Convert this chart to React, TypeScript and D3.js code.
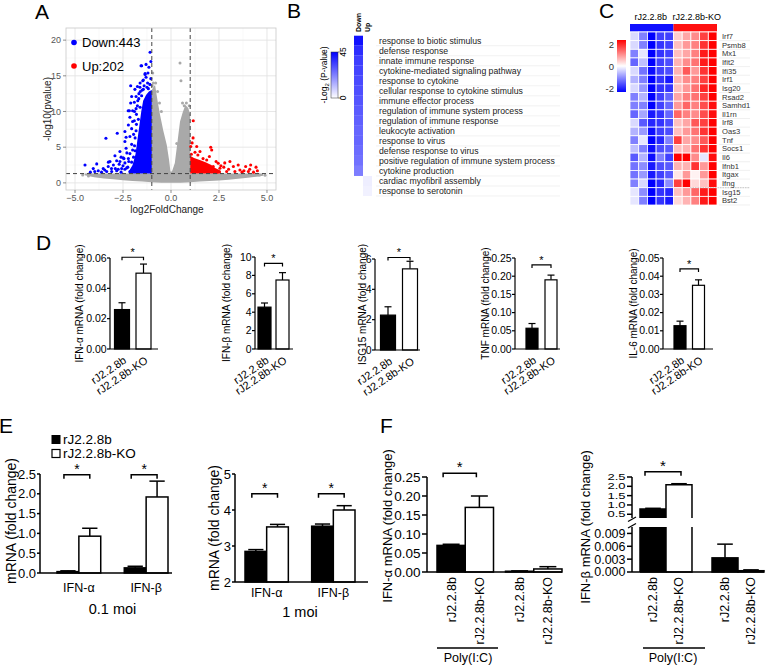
import React from 'react';
import * as d3 from 'd3';

const FONT = 'Arial, "Liberation Sans", Helvetica, sans-serif';

// ---------------- Panel A: volcano ----------------
const volcXTicks = [-5, -2.5, 0, 2.5, 5];
const volcYTicks = [0, 5, 10, 15, 20];
const downCount = 443;
const upCount = 202;
const pThreshold = 1.3;
const fcThreshold = 1;
// gray non-significant band: [log2FC, low, high]
const grayBand = [
  [-4.5, 1.05, 1.3], [-4.0, 0.8, 1.3], [-3.0, 0.5, 1.3], [-2.0, 0.25, 1.3], [-1.0, 0.1, 1.3],
  [0, 0.0, 1.3], [1.0, 0.1, 1.3], [2.0, 0.25, 1.3], [3.0, 0.45, 1.3], [4.0, 0.7, 1.3], [4.8, 1.0, 1.3],
];
// gray core (|log2FC|<1): [log2FC, top]
const grayCore = [
  [-1.0, 13.0], [-0.9, 13.5], [-0.83, 13.7], [-0.7, 11.5], [-0.57, 9.5], [-0.4, 7.3], [-0.22, 5.3],
  [-0.1, 3.2], [-0.03, 1.6], [0.05, 1.6], [0.2, 2.8], [0.35, 6.0], [0.47, 8.6], [0.6, 9.8],
  [0.75, 10.9], [0.9, 10.5], [1.0, 9.5],
];
const grayPts = [
  [0.47, 16.8], [0.52, 14.3], [-0.95, 15.4], [-0.92, 14.0], [0.69, 10.8], [0.6, 11.2], [0.85, 8.2],
  [-0.7, 12.8], [0.95, 10.8], [-0.8, 14.0], [-0.98, 13.6], [0.3, 5.5], [0.8, 11.2], [-4.6, 1.1],
  [4.9, 1.05], [-4.3, 0.95], [4.6, 1.1], [-0.6, 11.2], [-0.5, 10.0],
];
// blue dense core (x, top), base at threshold
const blueCore = [
  [-2.2, 1.6], [-2.0, 2.5], [-1.85, 4.0], [-1.75, 6.0], [-1.65, 8.0], [-1.55, 10.0], [-1.45, 11.5],
  [-1.3, 12.3], [-1.15, 12.8], [-1.0, 13.0],
];
const bluePts = [
  [-1.09, 18.3], [-1.56, 16.4], [-1.35, 15.2], [-1.3, 14.8], [-1.47, 14.3], [-1.61, 14.0], [-1.22, 14.0],
  [-1.75, 13.5], [-2.1, 13.6], [-1.44, 13.1], [-1.18, 13.2], [-2.05, 12.1], [-1.82, 12.1], [-1.67, 12.5],
  [-1.53, 12.2], [-2.1, 11.2], [-1.91, 11.3], [-1.73, 11.5], [-2.23, 10.1], [-2.0, 10.1], [-1.82, 10.4],
  [-1.61, 10.6], [-2.14, 9.2], [-1.91, 8.7], [-1.7, 8.9], [-2.22, 8.1], [-2.05, 7.6], [-2.4, 7.2],
  [-1.82, 7.3], [-2.8, 6.95], [-3.39, 6.25], [-2.14, 6.5], [-1.87, 6.3], [-2.4, 5.8], [-2.05, 5.4],
  [-2.34, 4.85], [-2.66, 4.4], [-2.14, 4.1], [-1.87, 4.5], [-2.92, 3.8], [-2.49, 3.5], [-2.22, 3.4],
  [-3.18, 3.0], [-2.66, 3.0], [-2.4, 2.8], [-4.48, 2.5], [-4.05, 2.0], [-3.79, 1.7], [-3.53, 2.0],
  [-3.27, 2.3], [-3.0, 2.5], [-2.83, 1.7], [-2.57, 2.0], [-3.35, 1.6], [-3.97, 1.6], [-3.62, 1.5],
  [-3.09, 1.6], [-2.31, 2.1], [-2.14, 1.6], [-3.87, 2.66], [-3.26, 2.9], [-2.83, 3.1], [-2.45, 3.4],
  [-2.34, 6.4], [-2.17, 10.1], [-1.88, 13.1], [-1.53, 16.4], [-1.35, 15.3], [-1.44, 14.4], [-4.2, 1.5],
  [-1.95, 6.8], [-1.9, 5.2], [-2.0, 4.6], [-2.2, 3.0], [-2.5, 2.4], [-2.7, 2.6], [-2.9, 2.0],
  [-2.6, 1.5], [-2.4, 1.9], [-2.25, 2.2], [-2.05, 2.9], [-1.8, 9.6], [-1.75, 10.8], [-1.68, 11.8],
  [-1.6, 12.8], [-1.5, 13.0], [-1.4, 13.6], [-1.25, 13.4], [-1.1, 13.8], [-1.05, 14.6], [-1.2, 15.4],
  [-1.15, 16.2], [-1.3, 16.6], [-1.05, 17.0], [-1.95, 3.6], [-1.8, 8.2], [-2.3, 4.2], [-2.6, 3.6],
  [-3.1, 2.0], [-3.45, 1.8], [-2.75, 1.9], [-1.62, 13.4], [-1.9, 10.0], [-2.0, 8.6],
];
const redCore = [
  [1.0, 3.8], [1.2, 3.5], [1.5, 3.2], [1.8, 2.9], [2.1, 2.5], [2.3, 2.1], [2.6, 1.7],
];
const redPts = [
  [1.16, 8.7], [1.03, 5.1], [1.34, 5.1], [1.51, 4.4], [2.07, 5.0], [2.12, 4.6], [1.06, 4.0], [2.0, 3.7],
  [2.46, 2.75], [3.07, 3.0], [3.25, 2.3], [3.59, 1.8], [3.89, 2.3], [4.15, 2.5], [4.43, 2.2], [4.5, 1.7],
  [4.03, 1.6], [3.33, 1.6], [2.9, 1.6], [2.55, 2.05], [2.2, 2.3], [1.86, 3.2], [1.67, 3.4], [1.25, 4.3],
  [1.4, 3.9], [2.35, 3.0], [2.75, 2.2], [3.0, 1.9], [3.7, 1.5], [4.3, 1.5], [1.15, 6.3], [1.1, 5.6],
  [2.4, 1.5], [2.6, 2.4], [1.9, 1.6], [3.5, 2.5], [3.8, 1.7], [4.1, 1.9], [2.8, 2.8],
];

// ---------------- Panel B: GO heatmap ----------------
const goTerms = [
  'response to biotic stimulus', 'defense response', 'innate immune response',
  'cytokine-mediated signaling pathway', 'response to cytokine', 'cellular response to cytokine stimulus',
  'immune effector process', 'regulation of immune system process', 'regulation of immune response',
  'leukocyte activation', 'response to virus', 'defense response to virus',
  'positive regulation of immune system process', 'cytokine production', 'cardiac myofibril assembly',
  'response to serotonin',
];
const goDown = [42, 37, 34, 33, 32, 31, 30, 29, 28, 27, 27, 26, 25, 23, null, null];
const goUp = [null, null, null, null, null, null, null, null, null, null, null, null, null, null, 3, 2.5];
const goCols = ['Down', 'Up'];

// ---------------- Panel C: gene heatmap ----------------
const heatGenes = ['Irf7', 'Psmb8', 'Mx1', 'Ifit2', 'Ifi35', 'Irf1', 'Isg20', 'Rsad2', 'Samhd1', 'Il1rn',
  'Irf8', 'Oas3', 'Tnf', 'Socs1', 'Il6', 'Ifnb1', 'Itgax', 'Ifng', 'Isg15', 'Bst2'];
const heatGroups = ['rJ2.2.8b', 'rJ2.2.8b-KO'];
const heatValues = [
  [-0.3, -1.0, -2.0, -1.5, -1.5, 0.4, 0.7, 0.9, 1.5, 2.0],
  [-0.3, -1.0, -2.0, -1.6, -1.5, 0.5, 0.8, 1.0, 1.6, 2.0],
  [-1.0, -0.2, -2.0, -1.6, -1.5, 0.5, 0.7, 1.0, 1.8, 2.0],
  [-1.2, -0.5, -2.0, -1.5, -1.4, 0.6, 0.9, 1.1, 1.8, 2.0],
  [-0.3, -1.1, -1.9, -1.5, -1.4, 0.6, 1.3, 0.8, 1.6, 2.0],
  [-0.6, -1.0, -2.0, -1.6, -1.8, 0.6, 0.9, 1.0, 1.5, 2.0],
  [-0.3, -0.8, -2.0, -1.6, -1.6, 0.5, 0.8, 1.1, 1.7, 2.0],
  [-1.0, -0.6, -2.0, -1.5, -1.2, 0.7, 1.0, 1.1, 1.5, 2.0],
  [-1.0, -1.0, -2.0, -1.5, -1.2, 0.8, 1.2, 1.0, 1.4, 1.9],
  [-1.2, -0.7, -1.8, -1.6, -1.2, 1.2, 1.0, 0.9, 1.4, 1.9],
  [-0.3, -1.3, -1.7, -1.6, -1.4, 0.5, 0.7, 1.3, 1.5, 2.0],
  [-0.6, -0.8, -1.9, -1.5, -1.4, 0.5, 0.8, 1.1, 1.6, 2.0],
  [-1.0, -0.2, -2.0, -1.7, -1.0, 1.5, 0.7, 0.9, 1.3, 2.0],
  [-0.5, -1.0, -1.9, -1.4, -1.3, 0.5, 0.6, 1.1, 1.6, 2.0],
  [-1.3, -0.6, -1.9, -1.0, -1.5, 2.0, 2.0, 0.9, -0.2, 1.9],
  [-1.1, -0.9, -1.8, -1.4, -1.3, 0.6, 0.6, 1.6, 0.8, 2.0],
  [-1.1, -0.8, -1.8, -1.5, -1.3, 0.2, 0.8, 0.1, 0.8, 2.0],
  [-1.0, -0.3, -2.0, -1.7, -0.9, 1.5, 2.0, 0.3, 0.5, 1.9],
  [-0.2, -0.9, -2.0, -1.6, -1.7, 0.5, 0.8, 1.2, 1.8, 2.0],
  [-0.2, -1.0, -2.0, -1.6, -1.8, 0.3, 0.6, 1.0, 1.8, 2.0],
];
const heatLegendTicks = [2, 0, -2];

// ---------------- Panel D ----------------
const strains = ['rJ2.2.8b', 'rJ2.2.8b-KO'];
const dLabels = ['IFN-α mRNA (fold change)', 'IFN-β mRNA (fold change)', 'ISG15 mRNA (fold change)',
  'TNF mRNA (fold change)', 'IL-6 mRNA (fold change)'];
const dWT = [0.026, 4.55, 2.3, 0.057, 0.0128];
const dWTerr = [0.0045, 0.45, 0.55, 0.013, 0.0025];
const dKO = [0.050, 7.5, 5.35, 0.19, 0.035];
const dKOerr = [0.006, 0.8, 0.5, 0.013, 0.003];
const dMax = [0.06, 10, 6, 0.25, 0.05];
const dStep = [0.02, 2, 2, 0.05, 0.01];
const dFmt = ['.2f', 'd', 'd', '.2f', '.2f'];
const dSig = [0.0605, 9.3, 6.1, 0.231, 0.044];

// ---------------- Panel E ----------------
const eGenes = ['IFN-α', 'IFN-β'];
const e01WT = [0.035, 0.13];
const e01WTerr = [0.02, 0.04];
const e01KO = [0.93, 1.92];
const e01KOerr = [0.2, 0.4];
const e1WT = [2.85, 3.55];
const e1WTerr = [0.05, 0.06];
const e1KO = [3.53, 4.0];
const e1KOerr = [0.07, 0.12];
const eTitles = ['0.1 moi', '1 moi'];

// ---------------- Panel F ----------------
const fGroups = ['poly', 'mock'];
const fAWT = [0.07, 0.002];
const fAWTerr = [0.003, 0.001];
const fAKO = [0.17, 0.008];
const fAKOerr = [0.03, 0.006];
const fBWT = [0.78, 0.0033];
const fBWTerr = [0.04, 0.0032];
const fBKO = [2.08, 0.0003];
const fBKOerr = [0.06, 0.0002];
const fBLowTicks = [0, 0.003, 0.006, 0.009];
const fBHighTicks = [0.5, 1.0, 1.5, 2.0, 2.5];

type Pt = number[];

function PanelA() {
  const x = d3.scaleLinear().domain([-5.47, 5.47]).range([66, 276]);
  const y = d3.scaleLinear().domain([-1.0, 21.7]).range([190, 28]);
  const [x0, x1] = x.range();
  const [yb, yt] = y.range();
  const minorX = d3.pairs(volcXTicks).map(([a, b]) => (a + b) / 2);
  const minorY = d3.pairs(volcYTicks).map(([a, b]) => (a + b) / 2);
  const band = d3.area<Pt>().x(d => x(d[0])).y0(d => y(d[1])).y1(d => y(d[2])).curve(d3.curveMonotoneX);
  const core = (base: number) => d3.area<Pt>().x(d => x(d[0])).y0(y(base)).y1(d => y(d[1]));
  const fx = d3.format('.1f');
  return (
    <g fontFamily={FONT}>
      <rect x={x0} y={yt} width={x1 - x0} height={yb - yt} fill="#fff" />
      {minorX.map(v => <line key={'mx' + v} x1={x(v)} x2={x(v)} y1={yt} y2={yb} stroke="#f3f3f3" strokeWidth={0.6} />)}
      {minorY.map(v => <line key={'my' + v} x1={x0} x2={x1} y1={y(v)} y2={y(v)} stroke="#f3f3f3" strokeWidth={0.6} />)}
      {volcXTicks.map(v => <line key={'gx' + v} x1={x(v)} x2={x(v)} y1={yt} y2={yb} stroke="#e4e4e4" strokeWidth={0.9} />)}
      {volcYTicks.map(v => <line key={'gy' + v} x1={x0} x2={x1} y1={y(v)} y2={y(v)} stroke="#e4e4e4" strokeWidth={0.9} />)}
      <path d={band(grayBand) || ''} fill="#a9a9a9" />
      <path d={core(0.2)(grayCore) || ''} fill="#a9a9a9" />
      {grayPts.map((p, i) => <circle key={'g' + i} cx={x(p[0])} cy={y(p[1])} r={1.5} fill="#a9a9a9" />)}
      <path d={core(pThreshold)(blueCore) || ''} fill="#0000ff" />
      {bluePts.map((p, i) => <circle key={'b' + i} cx={x(p[0])} cy={y(p[1])} r={1.55} fill="#0000ff" />)}
      <path d={core(pThreshold)(redCore) || ''} fill="#ff0000" />
      {redPts.map((p, i) => <circle key={'r' + i} cx={x(p[0])} cy={y(p[1])} r={1.55} fill="#ff0000" />)}
      {[-fcThreshold, fcThreshold].map(v => <line key={'v' + v} x1={x(v)} x2={x(v)} y1={yt} y2={yb} stroke="#444" strokeWidth={1} strokeDasharray="4,3" />)}
      <line x1={x0} x2={x1} y1={y(pThreshold)} y2={y(pThreshold)} stroke="#444" strokeWidth={1} strokeDasharray="4,3" />
      <rect x={x0} y={yt} width={x1 - x0} height={yb - yt} fill="none" stroke="#c8c8c8" strokeWidth={0.8} />
      {volcXTicks.map(v => (
        <g key={'tx' + v}>
          <line x1={x(v)} x2={x(v)} y1={yb} y2={yb + 3} stroke="#444" strokeWidth={0.6} />
          <text x={x(v)} y={yb + 11} textAnchor="middle" fontSize={9} fill="#555">{fx(v)}</text>
        </g>
      ))}
      {volcYTicks.map(v => (
        <g key={'ty' + v}>
          <line x1={x0 - 3} x2={x0} y1={y(v)} y2={y(v)} stroke="#444" strokeWidth={0.6} />
          <text x={x0 - 5} y={y(v)} dy="0.35em" textAnchor="end" fontSize={9} fill="#555">{v}</text>
        </g>
      ))}
      <text x={(x0 + x1) / 2 - 4} y={213} textAnchor="middle" fontSize={10} fill="#222">log2FoldChange</text>
      <text transform={`translate(51,${(yt + yb) / 2}) rotate(-90)`} textAnchor="middle" fontSize={10} fill="#222">-log10(pvalue)</text>
      <circle cx={74} cy={42.5} r={2.8} fill="#0000ff" />
      <text x={82} y={42.5} dy="0.35em" fontSize={13}>{`Down:${downCount}`}</text>
      <circle cx={74} cy={66} r={2.8} fill="#ff0000" />
      <text x={82} y={66} dy="0.35em" fontSize={13}>{`Up:${upCount}`}</text>
    </g>
  );
}

function PanelB() {
  const rows = d3.scaleBand<string>().domain(goTerms).range([35.7, 196]);
  const cols = d3.scaleBand<string>().domain(goCols).range([354, 372]);
  const color = d3.scaleLinear<string>().domain([0, 45]).range(['#ffffff', '#0000ff']).clamp(true);
  const leg = d3.scaleLinear().domain([0, 45]).range([98, 52]);
  const data = [goDown, goUp];
  return (
    <g fontFamily={FONT}>
      <defs>
        <linearGradient id="gB" x1="0" y1="1" x2="0" y2="0">
          <stop offset="0%" stopColor={color(0)} />
          <stop offset="100%" stopColor={color(45)} />
        </linearGradient>
      </defs>
      {goTerms.map((t, i) => (
        <line key={'sep' + i} x1={376} x2={560} y1={(rows(t) || 0) + rows.bandwidth()} y2={(rows(t) || 0) + rows.bandwidth()} stroke="#ececec" strokeWidth={0.7} />
      ))}
      {goCols.map((c, j) => goTerms.map((t, i) => {
        const v = data[j][i];
        if (v == null) return null;
        return <rect key={c + i} x={cols(c)} y={rows(t)} width={cols.bandwidth()} height={rows.bandwidth()} fill={color(v)} />;
      }))}
      {goTerms.map(t => (
        <text key={t} x={379} y={(rows(t) || 0) + rows.bandwidth() / 2} dy="0.35em" fontSize={8.7} fill="#222">{t}</text>
      ))}
      {goCols.map(c => (
        <text key={c} transform={`translate(${(cols(c) || 0) + cols.bandwidth() / 2 + 2.5},32) rotate(-90)`} fontSize={7} fontWeight="bold">{c}</text>
      ))}
      <rect x={331} y={leg(45)} width={7} height={leg(0) - leg(45)} fill="url(#gB)" stroke="#333" strokeWidth={0.5} />
      {[0, 45].map(v => (
        <g key={v}>
          <line x1={338} x2={341} y1={leg(v)} y2={leg(v)} stroke="#333" strokeWidth={0.6} />
          <text transform={`translate(346,${leg(v)}) rotate(-90)`} textAnchor="middle" fontSize={8.5}>{v}</text>
        </g>
      ))}
      <text transform="translate(327,75) rotate(-90)" textAnchor="middle" fontSize={8.5}>
        -Log<tspan fontSize={6} dy={2}>2</tspan><tspan dy={-2}> (P-value)</tspan>
      </text>
    </g>
  );
}

function PanelC() {
  const cols = d3.scaleBand<number>().domain(d3.range(10)).range([630, 717]);
  const rows = d3.scaleBand<string>().domain(heatGenes).range([32, 205]);
  const color = d3.scaleLinear<string>().domain([-2, 0, 2]).range(['#0000ff', '#ffffff', '#ff0000']).clamp(true);
  const leg = d3.scaleLinear().domain([-2, 2]).range([89, 45]);
  const half = cols.bandwidth() * 5;
  return (
    <g fontFamily={FONT}>
      <defs>
        <linearGradient id="gC" x1="0" y1="1" x2="0" y2="0">
          <stop offset="0%" stopColor={color(-2)} />
          <stop offset="50%" stopColor={color(0)} />
          <stop offset="100%" stopColor={color(2)} />
        </linearGradient>
      </defs>
      {heatGroups.map((g, k) => (
        <g key={g}>
          <rect x={630 + k * half} y={24} width={half} height={7.5} fill={k === 0 ? '#1010ff' : '#ff1010'} />
          <text x={630 + k * half + half / 2 + (k === 0 ? -1 : 1.5)} y={20} textAnchor="middle" fontSize={9}>{g}</text>
        </g>
      ))}
      {heatGenes.map(g => (
        <line key={'s' + g} x1={719} x2={750} y1={(rows(g) || 0) + rows.bandwidth()} y2={(rows(g) || 0) + rows.bandwidth()} stroke="#e6e6e6" strokeWidth={0.6} />
      ))}
      {heatValues.map((row, i) => row.map((v, j) => (
        <rect key={i + '-' + j} x={cols(j)} y={rows(heatGenes[i])} width={cols.bandwidth()} height={rows.bandwidth()} fill={color(v)} stroke="#fff" strokeWidth={0.8} />
      )))}
      <line x1={690} x2={750} y1={(rows('Isg15') || 0)} y2={(rows('Isg15') || 0)} stroke="#aaa" strokeWidth={0.6} strokeDasharray="1.5,1" />
      {heatGenes.map(g => (
        <text key={g} x={722} y={(rows(g) || 0) + rows.bandwidth() / 2} dy="0.35em" fontSize={7.6} fill="#333">{g}</text>
      ))}
      <rect x={617} y={40} width={9} height={52} fill="url(#gC)" />
      {heatLegendTicks.map(v => (
        <text key={v} x={614} y={leg(v)} dy="0.35em" textAnchor="end" fontSize={9.5} fill="#333">{v}</text>
      ))}
    </g>
  );
}

function YAxis({ x, scale, ticks, fmt, tickLen, fontSize, gap, squeeze = 1, sw = 1.3 }: any) {
  const r = scale.range();
  return (
    <g>
      <line x1={x} x2={x} y1={r[0]} y2={r[1]} stroke="#000" strokeWidth={sw} />
      {ticks.map((t: number) => (
        <g key={t}>
          <line x1={x - tickLen} x2={x} y1={scale(t)} y2={scale(t)} stroke="#000" strokeWidth={sw} />
          <text transform={`translate(${x - tickLen - gap},${scale(t)}) scale(1,${squeeze})`} dy="0.35em" textAnchor="end" fontSize={fontSize}>{fmt(t)}</text>
        </g>
      ))}
    </g>
  );
}

function Bar({ cx, w, y0, y1, fill, sw }: any) {
  return <rect x={cx - w / 2} y={Math.min(y0, y1)} width={w} height={Math.abs(y0 - y1)} fill={fill} stroke="#000" strokeWidth={sw} />;
}

function Err({ cx, yv, ye, cap, sw }: any) {
  return (
    <g stroke="#000" strokeWidth={sw}>
      <line x1={cx} x2={cx} y1={yv} y2={ye} />
      <line x1={cx - cap / 2} x2={cx + cap / 2} y1={ye} y2={ye} />
    </g>
  );
}

function Bracket({ xa, xb, y, tick, fs, sw }: any) {
  return (
    <g>
      <path d={`M${xa},${y + tick}V${y}H${xb}V${y + tick}`} fill="none" stroke="#000" strokeWidth={sw} />
      <text x={(xa + xb) / 2} y={y - 1} textAnchor="middle" fontSize={fs}>*</text>
    </g>
  );
}

const dLayout = [
  { x0: 110, xEnd: 158, yTop: 258, yBot: 349, c: [122, 143.5], w: 15, lx: 82.5 },
  { x0: 255, xEnd: 293, yTop: 257, yBot: 349, c: [264.5, 282.5], w: 13, lx: 229.5 },
  { x0: 375, xEnd: 420, yTop: 259, yBot: 350, c: [388, 410], w: 15, lx: 365.5 },
  { x0: 515, xEnd: 560, yTop: 258, yBot: 349, c: [532, 551], w: 12, lx: 488.5 },
  { x0: 663, xEnd: 713, yTop: 258, yBot: 349, c: [680, 698.5], w: 12, lx: 636.5 },
];

function PanelD() {
  return (
    <g fontFamily={FONT}>
      {dLayout.map((L, i) => {
        const y = d3.scaleLinear().domain([0, dMax[i]]).range([L.yBot, L.yTop]);
        const xs = d3.scalePoint<string>().domain(strains).range(L.c as [number, number]);
        const ticks = d3.range(0, dMax[i] + dStep[i] / 2, dStep[i]);
        const fmt = d3.format(dFmt[i]);
        const vals = [dWT[i], dKO[i]];
        const errs = [dWTerr[i], dKOerr[i]];
        return (
          <g key={i}>
            <text transform={`translate(${L.lx},${(L.yTop + L.yBot) / 2}) rotate(-90)`} textAnchor="middle" fontSize={10}>{dLabels[i]}</text>
            {strains.map((s, k) => (
              <g key={s}>
                <Err cx={xs(s)} yv={y(vals[k])} ye={y(vals[k] + errs[k])} cap={7} sw={1.2} />
                <Bar cx={xs(s)} w={L.w} y0={y(0)} y1={y(vals[k])} fill={k === 0 ? '#000' : '#fff'} sw={1.2} />
                <text transform={`translate(${(xs(s) || 0) + 3},${L.yBot + 10}) rotate(-34)`} textAnchor="end" dy="0.35em" fontSize={11}>{s}</text>
              </g>
            ))}
            <YAxis x={L.x0} scale={y} ticks={ticks} fmt={fmt} tickLen={3} fontSize={10.5} gap={0.3} sw={1.2} />
            <line x1={L.x0} x2={L.xEnd} y1={L.yBot} y2={L.yBot} stroke="#000" strokeWidth={1.2} />
            <Bracket xa={xs(strains[0])} xb={xs(strains[1])} y={y(dSig[i])} tick={3} fs={11} sw={1.2} />
          </g>
        );
      })}
    </g>
  );
}

const eLayout = [
  { x0: 40, xEnd: 172, yTop: 474, yBot: 573, dom: [0, 2.5], step: 0.5, fmt: '.1f', band: [57, 168], sig: 2.48, lx: 16, lyc: 521, gl: 592, tl: 614,
    wt: e01WT, wte: e01WTerr, ko: e01KO, koe: e01KOerr },
  { x0: 235, xEnd: 368, yTop: 474, yBot: 582, dom: [2, 5], step: 1, fmt: 'd', band: [245, 355], sig: 4.45, lx: 219, lyc: 528, gl: 597, tl: 617,
    wt: e1WT, wte: e1WTerr, ko: e1KO, koe: e1KOerr },
];

function PanelE() {
  return (
    <g fontFamily={FONT}>
      <rect x={52} y={435.5} width={8} height={8} fill="#000" stroke="#000" />
      <text x={63} y={439.5} dy="0.35em" fontSize={13.5}>{strains[0]}</text>
      <rect x={52} y={449.5} width={8} height={8} fill="#fff" stroke="#000" strokeWidth={1.2} />
      <text x={63} y={453.5} dy="0.35em" fontSize={13.5}>{strains[1]}</text>
      {eLayout.map((L, i) => {
        const y = d3.scaleLinear().domain(L.dom).range([L.yBot, L.yTop]);
        const xb = d3.scaleBand<string>().domain(eGenes).range(L.band as [number, number]).paddingInner(0.35);
        const bw = xb.bandwidth() / 2;
        const ticks = d3.range(L.dom[0], L.dom[1] + L.step / 2, L.step);
        return (
          <g key={i}>
            <text transform={`translate(${L.lx},${L.lyc}) rotate(-90)`} textAnchor="middle" fontSize={14}>mRNA (fold change)</text>
            {eGenes.map((g, k) => {
              const xl = xb(g) || 0;
              const cW = xl + bw / 2, cK = xl + bw * 1.5;
              return (
                <g key={g}>
                  <Err cx={cW} yv={y(L.wt[k])} ye={y(L.wt[k] + L.wte[k])} cap={bw * 0.7} sw={1.5} />
                  <Err cx={cK} yv={y(L.ko[k])} ye={y(L.ko[k] + L.koe[k])} cap={bw * 0.7} sw={1.5} />
                  <Bar cx={cW} w={bw} y0={y(L.dom[0])} y1={y(L.wt[k])} fill="#000" sw={1.5} />
                  <Bar cx={cK} w={bw} y0={y(L.dom[0])} y1={y(L.ko[k])} fill="#fff" sw={1.5} />
                  <Bracket xa={cW - 4} xb={cK} y={y(L.sig)} tick={4} fs={14} sw={1.5} />
                  <text x={xl + bw} y={L.gl} textAnchor="middle" fontSize={12.5}>{g}</text>
                </g>
              );
            })}
            <YAxis x={L.x0} scale={y} ticks={ticks} fmt={d3.format(L.fmt)} tickLen={3} fontSize={13} gap={1} sw={1.5} />
            <line x1={L.x0} x2={L.xEnd} y1={L.yBot} y2={L.yBot} stroke="#000" strokeWidth={1.5} />
            <text x={(L.band[0] + L.band[1]) / 2} y={L.tl} textAnchor="middle" fontSize={14.5}>{eTitles[i]}</text>
          </g>
        );
      })}
    </g>
  );
}

function openBar(cx: number, w: number, yBottom: number, yTopV: number, closeTop: boolean, closeBottom: boolean) {
  const l = cx - w / 2, r = cx + w / 2;
  let d = `M${l},${yBottom}V${yTopV}`;
  d += closeTop ? `H${r}` : `M${r},${yTopV}`;
  d += `V${yBottom}`;
  if (closeBottom) d += `H${l}`;
  return d;
}

function PanelF() {
  // F1
  const y1 = d3.scaleLinear().domain([0, 0.25]).range([572, 477]);
  const xb1 = d3.scaleBand<string>().domain(fGroups).range([437, 562]).paddingInner(0.175);
  const t1 = d3.range(0, 0.26, 0.05);
  // F2 broken axis
  const yLow = d3.scaleLinear().domain([0, 0.0105]).range([572, 527]);
  const yHigh = d3.scaleLinear().domain([0.3, 2.5]).range([518, 477]);
  const xb2 = d3.scaleBand<string>().domain(fGroups).range([640, 764]).paddingInner(0.278);
  const lowMax = yLow.domain()[1];
  const highMin = yHigh.domain()[0];
  const yAny = (v: number) => (v > lowMax ? yHigh(v) : yLow(v));
  const sw = 1.5;
  const labels = (xb: any) => fGroups.map(g => strains.map((s, k) => {
    const cx = (xb(g) || 0) + xb.bandwidth() * (k === 0 ? 0.25 : 0.75);
    return <text key={g + s} transform={`translate(${cx},577) rotate(-90)`} dy="0.35em" textAnchor="end" fontSize={12.5}>{s}</text>;
  }));
  return (
    <g fontFamily={FONT}>
      {/* F1 */}
      <text transform="translate(392,526) rotate(-90)" textAnchor="middle" fontSize={13}>IFN-α mRNA (fold change)</text>
      {fGroups.map((g, k) => {
        const bw = xb1.bandwidth() / 2;
        const cW = (xb1(g) || 0) + bw / 2, cK = cW + bw;
        return (
          <g key={g}>
            <Err cx={cW} yv={y1(fAWT[k])} ye={y1(fAWT[k] + fAWTerr[k])} cap={bw * 0.6} sw={sw} />
            <Err cx={cK} yv={y1(fAKO[k])} ye={y1(fAKO[k] + fAKOerr[k])} cap={bw * 0.6} sw={sw} />
            <Bar cx={cW} w={bw} y0={y1(0)} y1={y1(fAWT[k])} fill="#000" sw={sw} />
            <Bar cx={cK} w={bw} y0={y1(0)} y1={y1(fAKO[k])} fill="#fff" sw={sw} />
            {k === 0 && <Bracket xa={cW - 8} xb={cK - 3} y={y1(0.26)} tick={4} fs={15} sw={sw} />}
          </g>
        );
      })}
      <YAxis x={427} scale={y1} ticks={t1} fmt={d3.format('.2f')} tickLen={5} fontSize={13.5} gap={1.5} sw={sw} />
      <line x1={427} x2={562} y1={572} y2={572} stroke="#000" strokeWidth={sw} />
      {labels(xb1)}
      <line x1={437} x2={498} y1={648} y2={648} stroke="#000" strokeWidth={1.3} />
      <text x={468} y={662} textAnchor="middle" fontSize={12.5}>Poly(I:C)</text>

      {/* F2 */}
      <text transform="translate(590,527) rotate(-90)" textAnchor="middle" fontSize={13}>IFN-β mRNA (fold change)</text>
      {fGroups.map((g, k) => {
        const bw = xb2.bandwidth() / 2;
        const cs = [(xb2(g) || 0) + bw / 2, (xb2(g) || 0) + bw * 1.5];
        const vals = [fBWT[k], fBKO[k]];
        const errs = [fBWTerr[k], fBKOerr[k]];
        return (
          <g key={g}>
            {cs.map((cx, j) => {
              const v = vals[j];
              const fill = j === 0 ? '#000' : '#fff';
              const broken = v > lowMax;
              return (
                <g key={j}>
                  <Err cx={cx} yv={yAny(v)} ye={yAny(v + errs[j])} cap={bw * 0.6} sw={sw} />
                  {broken ? (
                    <g>
                      <rect x={cx - bw / 2} y={yLow(lowMax)} width={bw} height={yLow(0) - yLow(lowMax)} fill={fill} />
                      <path d={openBar(cx, bw, yLow(0), yLow(lowMax), false, true)} fill="none" stroke="#000" strokeWidth={sw} />
                      <rect x={cx - bw / 2} y={yHigh(v)} width={bw} height={yHigh(highMin) - yHigh(v)} fill={fill} />
                      <path d={openBar(cx, bw, yHigh(highMin), yHigh(v), true, false)} fill="none" stroke="#000" strokeWidth={sw} />
                    </g>
                  ) : (
                    <Bar cx={cx} w={bw} y0={yLow(0)} y1={yLow(v)} fill={fill} sw={sw} />
                  )}
                </g>
              );
            })}
            {k === 0 && <Bracket xa={cs[0] - 8} xb={cs[1] + 2} y={yHigh(2.78)} tick={4} fs={15} sw={sw} />}
          </g>
        );
      })}
      <YAxis x={632} scale={yLow} ticks={fBLowTicks} fmt={d3.format('.3f')} tickLen={5} fontSize={12.5} gap={1.5} sw={sw} />
      <YAxis x={632} scale={yHigh} ticks={fBHighTicks} fmt={d3.format('.1f')} tickLen={5} fontSize={13} gap={1.5} squeeze={0.68} sw={sw} />
      <line x1={628} x2={636} y1={521.5} y2={517} stroke="#000" strokeWidth={1.2} />
      <line x1={628} x2={636} y1={528} y2={523.5} stroke="#000" strokeWidth={1.2} />
      <line x1={632} x2={764} y1={572} y2={572} stroke="#000" strokeWidth={sw} />
      {labels(xb2)}
      <line x1={643} x2={705} y1={648} y2={648} stroke="#000" strokeWidth={1.3} />
      <text x={673} y={662} textAnchor="middle" fontSize={12.5}>Poly(I:C)</text>
    </g>
  );
}

export default function App() {
  const letters = [['A', 35, 19], ['B', 287, 18], ['C', 599, 18], ['D', 36, 250], ['E', -1, 433], ['F', 380, 433]];
  return (
    <svg width={777} height={665} viewBox="0 0 777 665" style={{ position: 'absolute', left: 0, top: 0, background: '#fff' }} fontFamily={FONT}>
      <rect width={777} height={665} fill="#fff" />
      <PanelA />
      <PanelB />
      <PanelC />
      <PanelD />
      <PanelE />
      <PanelF />
      {letters.map(([t, x, y]) => (
        <text key={t as string} x={x as number} y={y as number} fontSize={21} fontFamily={FONT}>{t}</text>
      ))}
    </svg>
  );
}
